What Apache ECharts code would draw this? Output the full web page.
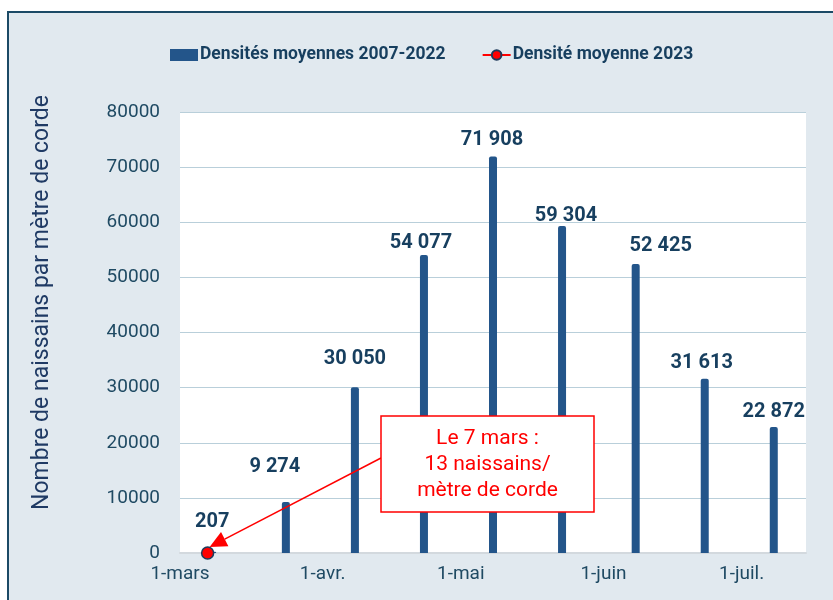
<!DOCTYPE html>
<html>
<head>
<meta charset="utf-8">
<script src="https://cdn.jsdelivr.net/npm/echarts@6/dist/echarts.min.js"></script>
<style>
html,body{margin:0;padding:0;background:#ffffff;}
#main{width:833px;height:600px;}
</style>
</head>
<body>
<div id="main"></div>
<script>
// ---- data ----
var barDates = ['2023-03-08','2023-03-24','2023-04-08','2023-04-23','2023-05-08','2023-05-23','2023-06-08','2023-06-23','2023-07-08'];
var barValues = [207, 9274, 30050, 54077, 71908, 59304, 52425, 31613, 22872];
var pointDates = ['2023-03-07'];
var pointValues = [13];
var tickDates = ['2023-03-01','2023-04-01','2023-05-01','2023-06-01','2023-07-01'];
var tickLabels = ['1-mars','1-avr.','1-mai','1-juin','1-juil.'];
var axisMinDate = '2023-03-01';
var axisMaxDate = '2023-07-15';
var seriesNames = ['Densités moyennes 2007-2022', 'Densité moyenne 2023'];
var yAxisTitle = 'Nombre de naissains par mètre de corde';
var annotationLines = ['Le 7 mars :', '13 naissains/', 'mètre de corde'];
// label nudges (style only) [dx, dy]
var labelNudge = [[0,-15],[-11,-20],[0,-13],[-3,3],[-1,-2],[4,5],[25,-3],[-3,-1],[0,0]];

function ts(s){ var p = s.split('-'); return Date.UTC(+p[0], +p[1]-1, +p[2]); }
function fmt(v){ return String(v).replace(/\B(?=(\d{3})+(?!\d))/g, ' '); }

var tickTs = tickDates.map(ts);
var chart = echarts.init(document.getElementById('main'), null, {renderer:'canvas'});

var barData = barDates.map(function(d, i){
  return {
    value: [ts(d), barValues[i]],
    label: { offset: labelNudge[i] }
  };
});
var pointData = pointDates.map(function(d, i){ return [ts(d), pointValues[i]]; });

var FONT = 'Roboto';
var bgRect = { type: 'rect', z: -10, silent: true,
      shape: { x: 8, y: 12, width: 900, height: 700 },
      style: { fill: '#e1e9ef', stroke: '#1b4a66', lineWidth: 2 } };
var option = {
  backgroundColor: '#ffffff',
  animation: false,
  textStyle: { fontFamily: FONT },
  graphic: [ bgRect ],
  legend: {
    top: 41, left: 165,
    itemGap: 36,
    itemWidth: 28, itemHeight: 12,
    textStyle: { fontFamily: FONT, fontWeight: 'bold', fontSize: 17.5, color: '#173f5f', padding: [0,0,0,-3] },
    data: [
      { name: seriesNames[0], icon: 'rect' },
      { name: seriesNames[1] }
    ]
  },
  grid: { left: 180, right: 27, top: 112, bottom: 47, containLabel: false,
          show: true, backgroundColor: '#ffffff', borderWidth: 0 },
  xAxis: {
    type: 'value',
    min: ts(axisMinDate), max: ts(axisMaxDate),
    axisLine: { show: true, onZero: false, lineStyle: { color: '#d3d9de', width: 2 } },
    axisTick: { show: false },
    splitLine: { show: false },
    axisLabel: {
      customValues: tickTs,
      margin: 12,
      fontFamily: FONT, fontSize: 19, color: '#1f4a63',
      formatter: function(v){
        var idx = tickTs.indexOf(v);
        return idx >= 0 ? tickLabels[idx] : '';
      }
    }
  },
  yAxis: {
    type: 'value', min: 0, max: 80000, interval: 10000,
    name: yAxisTitle, nameLocation: 'middle', nameRotate: 90, nameGap: 126,
    nameTextStyle: { fontFamily: FONT, fontSize: 23, color: '#1f3a64', padding: [0, 0, 0, 60] },
    axisLine: { show: false }, axisTick: { show: false },
    axisLabel: { margin: 20, fontFamily: FONT, fontSize: 19, color: '#1f4a63',
                 formatter: function(v){ return String(v); } },
    splitLine: { lineStyle: { color: '#b9cfda', width: 1 } }
  },
  series: [
    {
      name: seriesNames[0], type: 'bar', barWidth: 8,
      itemStyle: { color: '#23558a', borderRadius: [2,2,0,0] },
      label: {
        show: true, position: 'top', distance: 5,
        fontFamily: FONT, fontWeight: 'bold', fontSize: 20, color: '#173f5f',
        formatter: function(p){ return fmt(p.value[1]); }
      },
      data: barData, z: 2
    },
    {
      name: seriesNames[1], type: 'line',
      symbol: 'circle', symbolSize: 12,
      lineStyle: { color: '#ff0000', width: 3 },
      itemStyle: { color: '#ff0000', borderColor: '#1f3a5a', borderWidth: 1.5 },
      data: pointData, z: 5
    }
  ]
};
chart.setOption(option);

// annotation box with arrow pointing to the 2023 point
var dot = chart.convertToPixel({gridIndex: 0}, pointData[0]);
var box = { x: 381, y: 416, w: 213, h: 96 };
var start = [box.x, box.y + 42];
var tip = [dot[0] + 2, dot[1] - 6];
var dx = tip[0] - start[0], dy = tip[1] - start[1];
var len = Math.sqrt(dx*dx + dy*dy);
var ux = dx/len, uy = dy/len;
var headL = 17, headW = 8;
var base = [tip[0] - ux*headL, tip[1] - uy*headL];
var px = -uy, py = ux;
chart.setOption({
  graphic: [
    bgRect,
    { type: 'line', z: 20, silent: true,
      shape: { x1: start[0], y1: start[1], x2: base[0], y2: base[1] },
      style: { stroke: '#ff0000', lineWidth: 1.5 } },
    { type: 'polygon', z: 20, silent: true,
      shape: { points: [tip, [base[0] + px*headW, base[1] + py*headW], [base[0] - px*headW, base[1] - py*headW]] },
      style: { fill: '#ff0000' } },
    { type: 'rect', z: 20, silent: true,
      shape: { x: box.x, y: box.y, width: box.w, height: box.h },
      style: { fill: '#ffffff', stroke: '#ff0000', lineWidth: 1.5 } },
    { type: 'text', z: 21, silent: true,
      x: box.x + box.w/2, y: box.y + box.h/2 + 1,
      style: { text: annotationLines.join('\n'), fill: '#ff0000', font: '21px Roboto',
               align: 'center', verticalAlign: 'middle', lineHeight: 26 } }
  ]
});
</script>
</body>
</html>
